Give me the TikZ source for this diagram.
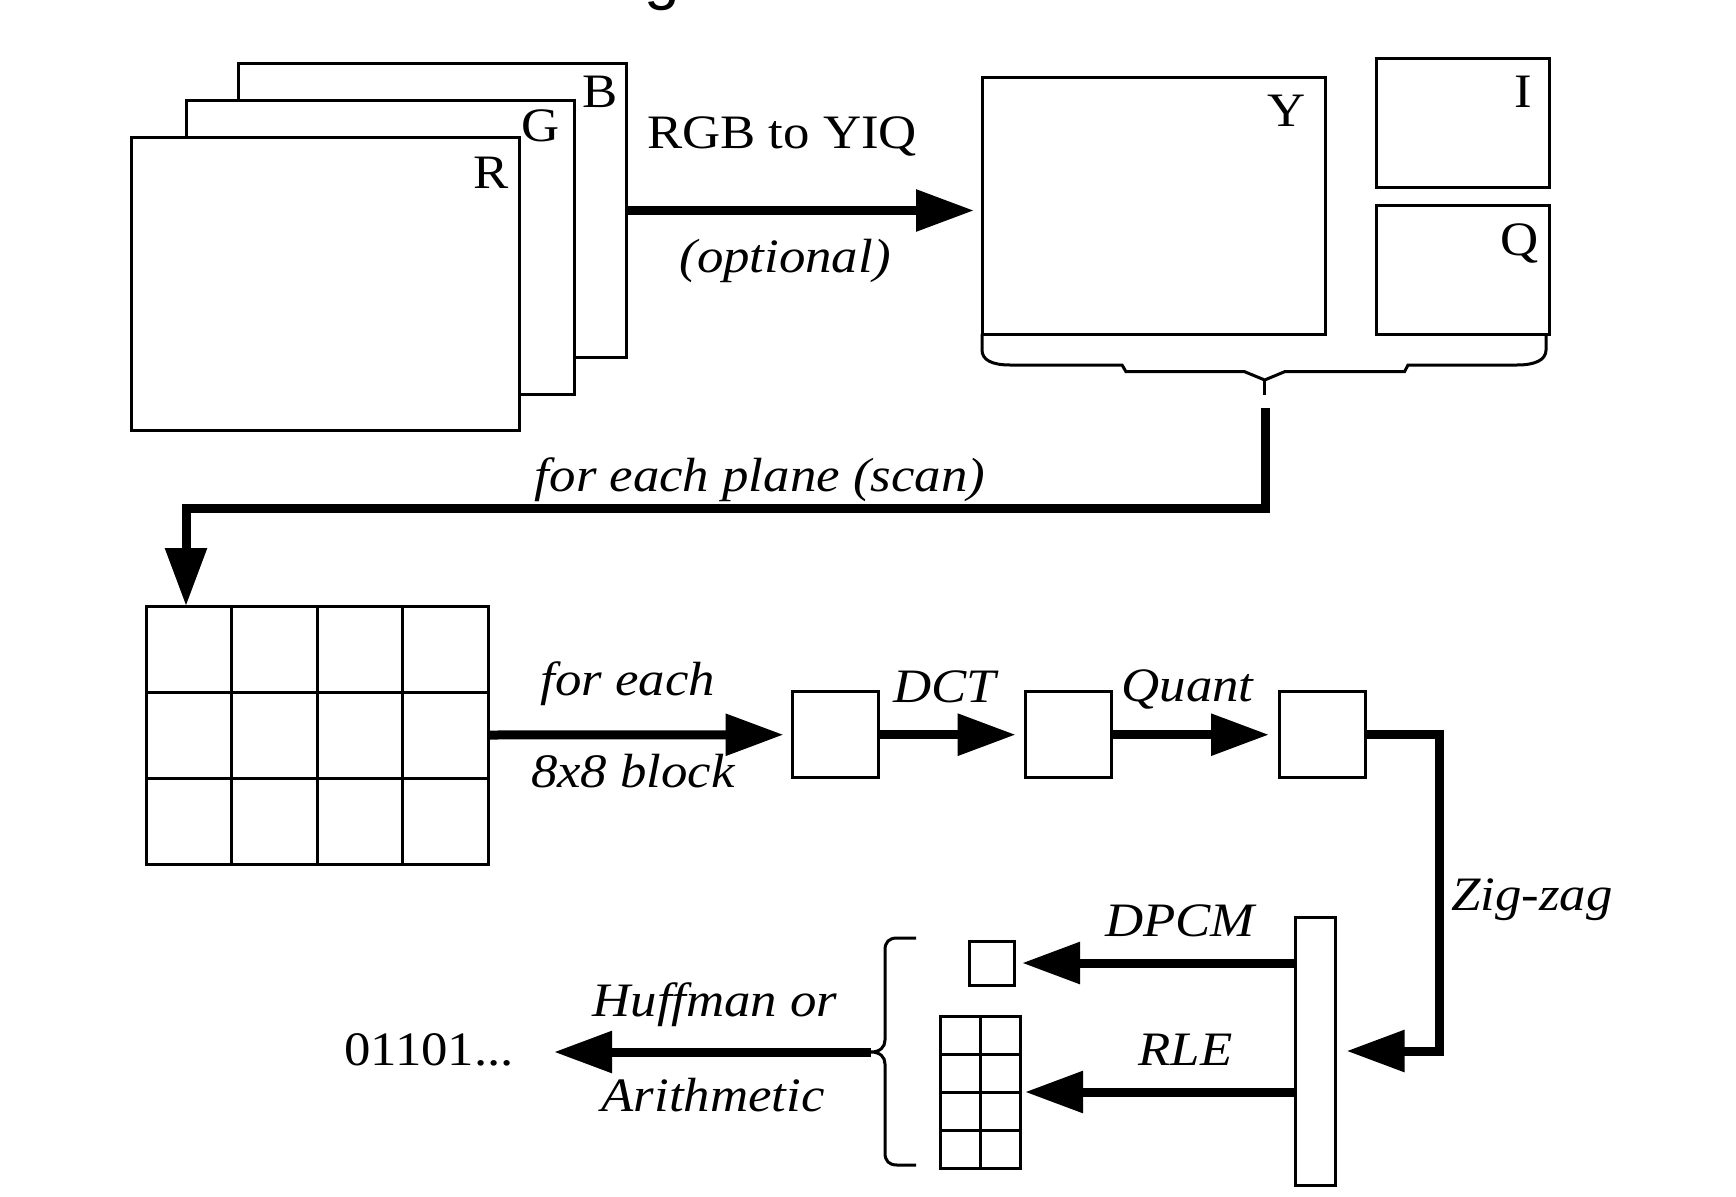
\documentclass[tikz,border=0pt]{standalone}
\usepackage{fontspec}
\setmainfont{Liberation Serif}[FakeStretch=1.1]
\newfontfamily\titlefont{Liberation Sans}
\usetikzlibrary{arrows.meta,calc}
\begin{document}
\begin{tikzpicture}[x=1pt,y=-1pt,
  box/.style={draw, line width=3pt, fill=white, inner sep=0pt, outer sep=0pt},
  thinline/.style={line width=3pt},
  flow/.style={line width=9pt, -{Triangle[length=58pt,width=40pt]}},
  lbl/.style={inner sep=0pt, font=\fontsize{48}{56}\selectfont, anchor=base},
  ilbl/.style={inner sep=0pt, font=\fontsize{48}{56}\selectfont\itshape, anchor=base}]
\useasboundingbox (0,0) rectangle (1736,1196);

% fragment of a title above the picture
\node[inner sep=0pt, anchor=base, font=\titlefont\fontsize{64}{70}\selectfont] (title) at (662,-2.4) {g};

% RGB planes
\node[box, minimum width=388pt, minimum height=293pt] (B) at (432,210.5) {};
\node[box, minimum width=388pt, minimum height=293pt] (G) at (380,247.5) {};
\node[box, minimum width=388pt, minimum height=293pt] (R) at (325,283.5) {};
\node[lbl] (Bl) at (600,107) {B};
\node[lbl] (Gl) at (541,142) {G};
\node[lbl] (Rl) at (491,188) {R};

% YIQ planes
\node[box, minimum width=343pt, minimum height=256.5pt] (Y) at (1153.5,205.75) {};
\node[box, minimum width=173pt, minimum height=128pt] (I) at (1462.5,123) {};
\node[box, minimum width=173pt, minimum height=129pt] (Q) at (1462.5,269.5) {};
\node[lbl] (Yl) at (1287,127) {Y};
\node[lbl] (Il) at (1523,107) {I};
\node[lbl] (Ql) at (1520,255) {Q};

% RGB -> YIQ
\draw[flow, shorten >=8pt] (B.east) -- (B.east -| Y.west);
\node[lbl] (rgbl) at (782,148) {RGB to YIQ};
\node[ilbl] (optl) at (785,272) {(optional)};

% brace under YIQ
\draw[thinline] (Y.south west) -- (982,350) .. controls (982,360) and (992,365) .. (1010,365)
  -- (1122,365) -- (1126,371.7) -- (1244.6,371.7) -- (1264.7,380) -- (1284.6,371.7)
  -- (1404.5,371.7) -- (1408,365) -- (1517,365) .. controls (1535,365) and (1546,360) .. (1546,350)
  -- (1546,334);
\draw[thinline] (1264.7,380) -- (1264.7,395);

% plane of blocks
\node[box, minimum width=342.6pt, minimum height=258pt] (P) at (317.3,735) {};
\foreach \k in {1,2,3}
  \draw[thinline] ($(P.north west)!\k/4!(P.north east)$) -- ($(P.south west)!\k/4!(P.south east)$);
\foreach \k in {1,2}
  \draw[thinline] ($(P.north west)!\k/3!(P.south west)$) -- ($(P.north east)!\k/3!(P.south east)$);

\coordinate (bt) at (1265,408);
\coordinate (sc) at (186,508);
\draw[flow] (bt) |- (sc) -- (P.north -| sc);
\node[ilbl] (scanl) at (760,491) {for each plane (scan)};

% block pipeline
\node[box, minimum width=86pt, minimum height=86pt] (b1) at (835.6,734.7) {};
\node[box, minimum width=86pt, minimum height=86pt] (b2) at (1068.7,734.7) {};
\node[box, minimum width=86pt, minimum height=86pt] (b3) at (1322,734.7) {};
\draw[flow, shorten >=9pt] (P.east) -- (b1.west);
\draw[flow, shorten >=10pt] (b1.east) -- (b2.west);
\draw[flow, shorten >=10pt] (b2.east) -- (b3.west);
\node[ilbl] (fel) at (628,695) {for each};
\node[ilbl] (bkl) at (633,787) {8x8 block};
\node[ilbl] (dctl) at (945,702) {DCT};
\node[ilbl] (qul) at (1187.5,701) {Quant};

% zig-zag vector
\node[box, minimum width=40pt, minimum height=268pt] (ZZ) at (1315.5,1051) {};
\coordinate (zc) at (1439.5,1051);
\draw[flow, shorten >=11pt] (b3.east) -| (zc) -- (ZZ.east);
\node[ilbl, anchor=base west] (zzl) at (1451,910) {Zig-zag};

% DC and AC coefficients
\node[box, minimum width=45pt, minimum height=44pt] (DC) at (991.5,963) {};
\node[box, minimum width=80pt, minimum height=152pt] (AC) at (980,1092) {};
\draw[thinline] (AC.north) -- (AC.south);
\foreach \k in {1,2,3}
  \draw[thinline] ($(AC.north west)!\k/4!(AC.south west)$) -- ($(AC.north east)!\k/4!(AC.south east)$);
\draw[flow, shorten >=8pt] (ZZ.west |- DC) -- (DC.east);
\draw[flow, shorten >=5pt] (ZZ.west |- AC) -- (AC.east);
\node[ilbl] (dpl) at (1180,936) {DPCM};
\node[ilbl] (rlel) at (1185.5,1065) {RLE};

% left brace
\draw[thinline] (916,938) -- (897,938) .. controls (889,938) and (885,942) .. (885,950)
  -- (885,1040) .. controls (885,1047) and (880,1052) .. (871,1052)
  .. controls (880,1052) and (885,1057) .. (885,1064)
  -- (885,1153) .. controls (885,1161) and (889,1165) .. (897,1165) -- (916,1165);
\coordinate (lb) at (871,1052);

% entropy coding
\node[lbl] (bits) at (429,1065) {01101...};
\draw[flow, shorten >=40pt] (lb) -- (lb -| bits.east);
\node[ilbl] (hufl) at (715,1016) {Huffman or};
\node[ilbl] (aril) at (713,1111) {Arithmetic};
\end{tikzpicture}
\end{document}
